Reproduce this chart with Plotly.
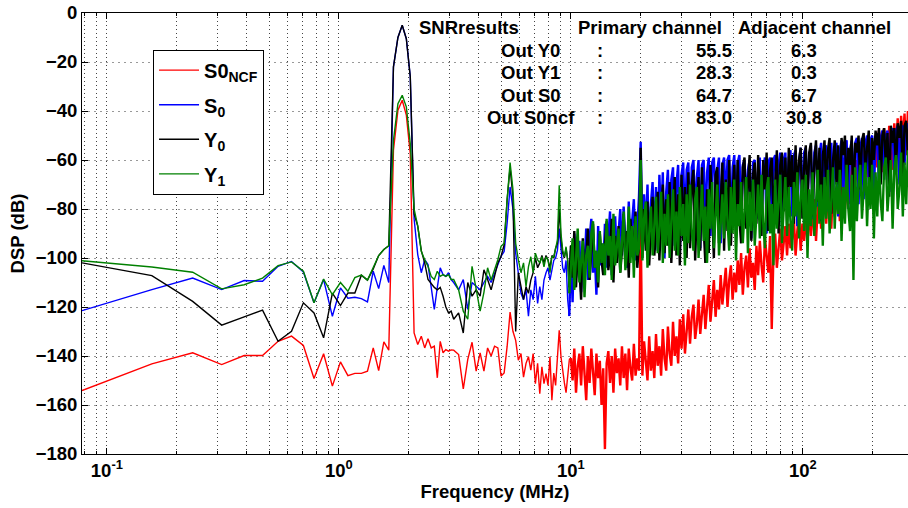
import numpy as np
import plotly.graph_objects as go

# ---------------- frequency grid (MHz) ----------------
DF_MHZ = 0.078125                      # FFT bin width
bins_a = list(range(1, 41))            # individual bins up to ~3.1 MHz
bins_b = list(range(42, 127, 2))       # every 2nd bin up to ~10 MHz
freq_low = [k * DF_MHZ for k in bins_a + bins_b]
freq_high = list(np.logspace(1.0, 2.46, 200))   # dense region 10 .. 290 MHz

# ---------------- S0_NCF (red) ----------------
s0ncf_a = [-154.1, -143.2, -138.7, -143.5, -139.8, -139.8, -134.0, -131.9, -135.7, -149.2,
           -139.1, -152.3, -142.4, -148.0, -147.1, -147.1, -146.2, -136.7, -146.0, -134.2,
           -137.6, -56.0, -39.7, -35.6, -41.7, -57.4, -130.6, -135.3, -131.9, -136.7,
           -133.0, -136.7, -136.0, -148.9, -134.0, -138.7, -137.4, -138.0, -137.5, -137.6]
s0ncf_b = [-139.4, -153.4, -141.4, -134.4, -146.2, -138.7, -146.2, -136.7, -140, -136,
           -136.7, -148.2, -146.9, -136, -122.1, -129.9, -133.6, -141.7, -139, -148.6,
           -143, -140.3, -145.8, -139, -151.3, -143, -155.4, -144.4, -151.3, -147.2,
           -152, -140.3, -158, -147, -152, -139, -129.5, -140.3, -147, -151,
           -155, -147, -141.7]
s0ncf_c = [-141, -150, -137, -155, -144, -139, -152, -136, -148, -158,
           -140, -151, -137, -146, -156, -139, -149, -142, -160, -145,
           -178, -143, -138, -151, -140, -155, -137, -147, -141, -152,
           -136, -149, -139, -154, -137, -145, -150, -135, -148, -141,
           -146, -86, -148, -134, -143, -150, -132, -146, -138, -149,
           -131, -144, -136, -148, -129, -141, -146, -128, -139, -144,
           -126, -140, -132, -143, -125, -137, -123, -139, -130, -121,
           -135, -124, -119, -133, -127, -117, -131, -122, -115, -129,
           -118, -111, -126, -116, -109, -124, -113, -121, -107, -119,
           -112, -104, -120, -109, -103, -117, -106, -114, -101, -111,
           -98, -115, -104, -99, -112, -96, -108, -102, -113, -95,
           -107, -93, -103, -110, -92, -100, -106, -91, -129, -98,
           -90, -104, -95, -88, -101, -93, -87, -99, -86, -96,
           -92, -84, -99, -89, -82, -97, -86, -93, -81, -95,
           -78, -91, -84, -76, -93, -80, -74, -88, -82, -75,
           -86, -72, -79, -88, -70, -83, -75, -68, -85, -77,
           -66, -80, -72, -64, -78, -62, -75, -69, -60, -74,
           -55, -70, -62, -53, -67, -58, -51, -69, -60, -50,
           -63, -48, -57, -65, -47, -55, -61, -46, -58, -64,
           -45, -56, -43, -60, -42, -53, -41, -58, -40, -50]

# ---------------- S0 (blue) ----------------
s0_a = [-121.5, -112.9, -108.2, -112.9, -109.2, -109.5, -103.4, -101.4, -105.7, -118.3,
        -108.8, -123.8, -112.2, -116.4, -116.0, -116.6, -117.9, -105.4, -112.5, -103.0,
        -110.0, -22.0, -10.0, -5.0, -10.5, -26.0, -84.0, -98.6, -106.0, -100.7,
        -102.7, -112.0, -121.0, -112.0, -104.0, -106.8, -107.5, -106.0, -108.8, -110.0]
s0_b = [-113, -108.8, -121, -110, -111.5, -113, -110, -107.5, -110, -106,
        -102.7, -99.3, -97.3, -85.7, -71, -80, -98, -107.5, -114.4, -117,
        -113, -123.7, -113, -117, -107.5, -118.5, -111.7, -117, -109, -106,
        -104, -109, -104, -101, -100, -96.8, -88, -98, -104, -106,
        -101, -117, -123.7]
s0_c = [-97, -118, -90, -108, -101, -93, -114, -96, -105, -88,
        -109, -92, -84, -106, -98, -115, -87, -103, -94, -106,
        -86, -104, -92, -81, -107, -95, -83, -100, -90, -80,
        -99, -79, -93, -104, -77, -96, -85, -76, -101, -88,
        -75, -52.6, -96, -74, -90, -70, -99, -78, -69, -94,
        -71, -97, -66, -86, -65, -100, -73, -64, -92, -68,
        -63, -95, -70, -62, -98, -66, -61, -89, -64, -61,
        -93, -63, -60, -84, -67, -60, -96, -62, -60, -87,
        -65, -59, -91, -61, -59, -80, -64, -59, -94, -62,
        -59, -77, -60, -58, -90, -63, -58, -83, -61, -58,
        -88, -62, -60, -79, -64, -60, -92, -61, -60, -84,
        -65, -59, -86, -63, -59, -90, -61, -59, -81, -60,
        -58, -85, -62, -57, -88, -60, -57, -78, -59, -56,
        -83, -58, -56, -87, -61, -55, -80, -57, -55, -76,
        -59, -54, -84, -57, -54, -79, -58, -53, -86, -56,
        -54, -81, -57, -53, -77, -55, -53, -83, -56, -52,
        -75, -54, -52, -80, -56, -52, -72, -53, -51, -78,
        -55, -51, -76, -53, -50, -70, -52, -50, -74, -51,
        -49, -72, -51, -48, -68, -50, -48, -73, -49, -47,
        -66, -48, -46, -70, -47, -46, -62, -48, -45, -64]

# ---------------- Y0 (black) ----------------
y0_a = [-102.0, -107.2, -117.7, -127.4, -124.0, -121.3, -134.0, -129.9, -118.3, -122.4,
        -132.6, -114.3, -119.4, -114.3, -114.3, -107.0, -109.0, -104.5, -99.0, -96.5,
        -95.0, -22.0, -10.0, -5.0, -10.5, -26.0, -82.0, -87.0, -97.0, -102.0,
        -108.8, -110.5, -112.0, -113.0, -112.0, -115.6, -120.0, -122.4, -121.7, -125.0]
y0_b = [-122.4, -130.6, -110, -115.6, -113, -115.6, -104.8, -108.8, -113, -107.5,
        -102, -99.3, -94.6, -76, -63, -75, -130, -106, -111.7, -117,
        -111.7, -114.4, -109, -106, -100, -104, -102, -99, -102, -99,
        -100.8, -104, -99, -100, -96, -94, -80, -92, -98, -100,
        -96, -101, -112]
y0_c = [-95, -108, -89, -112, -98, -104, -117, -92, -106, -100,
        -88, -109, -96, -86, -104, -99, -112, -90, -101, -107,
        -94, -85, -105, -98, -84, -110, -91, -102, -87, -106,
        -97, -82, -103, -89, -108, -84, -99, -93, -81, -104,
        -95, -55, -100, -80, -97, -77, -103, -86, -75, -99,
        -90, -73, -101, -83, -70, -98, -76, -95, -69, -102,
        -82, -67, -99, -74, -103, -66, -93, -71, -100, -65,
        -96, -70, -64, -101, -79, -67, -97, -63, -88, -102,
        -72, -98, -62, -85, -100, -66, -63, -94, -77, -61,
        -97, -68, -89, -60, -95, -73, -62, -91, -60, -84,
        -94, -63, -59, -88, -70, -58, -93, -66, -61, -86,
        -58, -79, -91, -60, -72, -57, -89, -64, -59, -83,
        -68, -56, -90, -62, -57, -81, -59, -87, -55, -71,
        -58, -86, -54, -75, -60, -55, -84, -63, -54, -79,
        -57, -53, -83, -61, -52, -77, -55, -85, -58, -52,
        -74, -56, -51, -82, -60, -52, -70, -54, -80, -51,
        -58, -50, -76, -55, -62, -50, -81, -53, -57, -50,
        -72, -52, -49, -66, -55, -48, -78, -51, -60, -48,
        -54, -47, -70, -50, -47, -62, -49, -75, -46, -53,
        -47, -65, -45, -51, -44, -68, -46, -44, -58, -43]

# ---------------- Y1 (green) ----------------
y1_a = [-101.1, -103.7, -105.8, -112.6, -110.9, -108.2, -103.1, -101.6, -105.4, -118.3,
        -108.6, -115.0, -110.0, -113.6, -108.0, -107.0, -109.0, -104.0, -99.0, -96.5,
        -95.0, -52.0, -37.0, -33.6, -38.3, -53.3, -80.0, -87.0, -97.3, -100.7,
        -103.4, -107.5, -108.8, -105.4, -107.5, -106.8, -107.5, -106.8, -108.8, -108.8]
y1_b = [-113, -121.7, -125, -103.4, -113, -121.7, -114, -104, -109, -104.8,
        -100.7, -95.2, -94, -76, -61, -72, -94, -100.8, -106, -102,
        -111.7, -103.6, -99.5, -106, -98, -100.8, -102, -99.5, -103.6, -99.5,
        -100.8, -106, -99.5, -99.5, -95.4, -92.7, -70.3, -90, -96.8, -99.5,
        -95.4, -100.8, -114.4]
y1_c = [-104, -92, -113, -97, -88, -110, -100, -93, -116, -99,
        -95, -108, -90, -85, -104, -97, -110, -89, -102, -94,
        -107, -84, -99, -91, -109, -82, -103, -95, -88, -106,
        -93, -81, -105, -97, -79, -102, -87, -108, -83, -99,
        -96, -60, -101, -84, -77, -104, -90, -79, -99, -86,
        -75, -98, -88, -73, -102, -82, -95, -74, -100, -85,
        -72, -97, -81, -99, -71, -91, -78, -103, -74, -94,
        -70, -89, -97, -76, -71, -100, -84, -70, -93, -79,
        -102, -72, -88, -69, -96, -80, -70, -99, -83, -74,
        -92, -69, -85, -97, -71, -90, -68, -101, -78, -87,
        -69, -94, -81, -67, -98, -73, -89, -68, -95, -84,
        -70, -92, -66, -86, -96, -72, -67, -90, -78, -103,
        -68, -88, -74, -66, -94, -80, -67, -91, -71, -85,
        -97, -69, -83, -65, -92, -75, -68, -89, -66, -100,
        -72, -87, -65, -91, -77, -64, -86, -70, -95, -67,
        -84, -64, -90, -73, -63, -88, -69, -82, -64, -93,
        -71, -86, -62, -80, -89, -66, -109, -63, -85, -70,
        -62, -84, -74, -61, -87, -67, -80, -62, -92, -65,
        -83, -60, -77, -85, -63, -59, -81, -70, -60, -88,
        -64, -58, -80, -72, -57, -83, -61, -78, -56, -75]

series = [
    ("S0<sub>NCF</sub>", "#ff0000", s0ncf_a + s0ncf_b, s0ncf_c),
    ("S<sub>0</sub>", "#0000ff", s0_a + s0_b, s0_c),
    ("Y<sub>0</sub>", "#000000", y0_a + y0_b, y0_c),
    ("Y<sub>1</sub>", "#008000", y1_a + y1_b, y1_c),
]

# ---------------- SNR table text ----------------
table_header = ["SNRresults", "Primary channel", "Adjacent channel"]
row_labels = ["Out Y0", "Out Y1", "Out S0", "Out S0ncf"]
primary_snr = ["55.5", "28.3", "64.7", "83.0"]
adjacent_snr = ["6.3", "0.3", "6.7", "30.8"]

x_tickvals = [0.1, 1, 10, 100]
x_ticktext = ["10<sup>-1</sup>", "10<sup>0</sup>", "10<sup>1</sup>", "10<sup>2</sup>"]

FONT = "Liberation Sans, Arial, Helvetica, sans-serif"

fig = go.Figure()
for i, (name, color, low, high) in enumerate(series):
    fig.add_trace(go.Scatter(x=freq_low, y=low, mode="lines", name=name,
                             legendgroup=f"g{i}",
                             line=dict(color=color, width=1.4)))
    fig.add_trace(go.Scatter(x=[freq_low[-1]] + freq_high, y=[low[-1]] + high,
                             mode="lines", name=name, legendgroup=f"g{i}",
                             showlegend=False,
                             line=dict(color=color, width=2.4)))

ann = []
row_y = [0.9155, 0.8645, 0.8135, 0.7637]
hdr_y = 0.9676
for txt, xp in zip(table_header, [0.4685, 0.6877, 0.8874]):
    ann.append(dict(text=txt, x=xp, y=hdr_y))
for i, ry in enumerate(row_y):
    ann.append(dict(text=row_labels[i], x=0.5435, y=ry))
    ann.append(dict(text=":", x=0.6271, y=ry))
    ann.append(dict(text=primary_snr[i], x=0.7657, y=ry))
    ann.append(dict(text=adjacent_snr[i], x=0.8735, y=ry))
for a in ann:
    a.update(xref="paper", yref="paper", xanchor="center", yanchor="middle",
             showarrow=False, font=dict(family=FONT, size=18.5, color="black", weight="bold"))

fig.update_layout(
    width=908, height=508,
    margin=dict(l=82, r=0, t=13, b=54),
    plot_bgcolor="white", paper_bgcolor="white",
    font=dict(family=FONT, size=18.5, color="black", weight="bold"),
    annotations=ann,
    legend=dict(x=0.086, y=0.917, xanchor="left", yanchor="top",
                bgcolor="white", bordercolor="black", borderwidth=1,
                font=dict(family=FONT, size=20, color="black", weight="bold"),
                tracegroupgap=5.6, itemwidth=40),
    xaxis=dict(type="log", range=[-1.1072, 2.453],
               tickmode="array", tickvals=x_tickvals, ticktext=x_ticktext,
               ticks="inside", ticklen=6, tickwidth=1, tickcolor="black",
               showline=True, linecolor="black", linewidth=1, mirror="allticks",
               showgrid=True, gridcolor="#444444", gridwidth=1, griddash="1px,3px",
               zeroline=False,
               minor=dict(dtick="D1", ticks="inside", ticklen=3, tickcolor="black",
                          showgrid=True, gridcolor="#444444", gridwidth=1, griddash="1px,3px"),
               title=dict(text="Frequency (MHz)", standoff=4,
                          font=dict(family=FONT, size=18.5, weight="bold"))),
    yaxis=dict(range=[-180, 0], tick0=0, dtick=20,
               ticks="inside", ticklen=6, tickwidth=1, tickcolor="black",
               showline=True, linecolor="black", linewidth=1, mirror=False,
               showgrid=True, gridcolor="#999999", gridwidth=1, griddash="2px,4px",
               zeroline=False,
               title=dict(text="DSP (dB)", standoff=6,
                          font=dict(family=FONT, size=18.5, weight="bold"))),
)

# the page body has a default 8px margin; remove it so the figure sits at the window origin
fig.write_html("out.html", config={"displayModeBar": False},
               post_script="document.body.style.margin='0px';")
